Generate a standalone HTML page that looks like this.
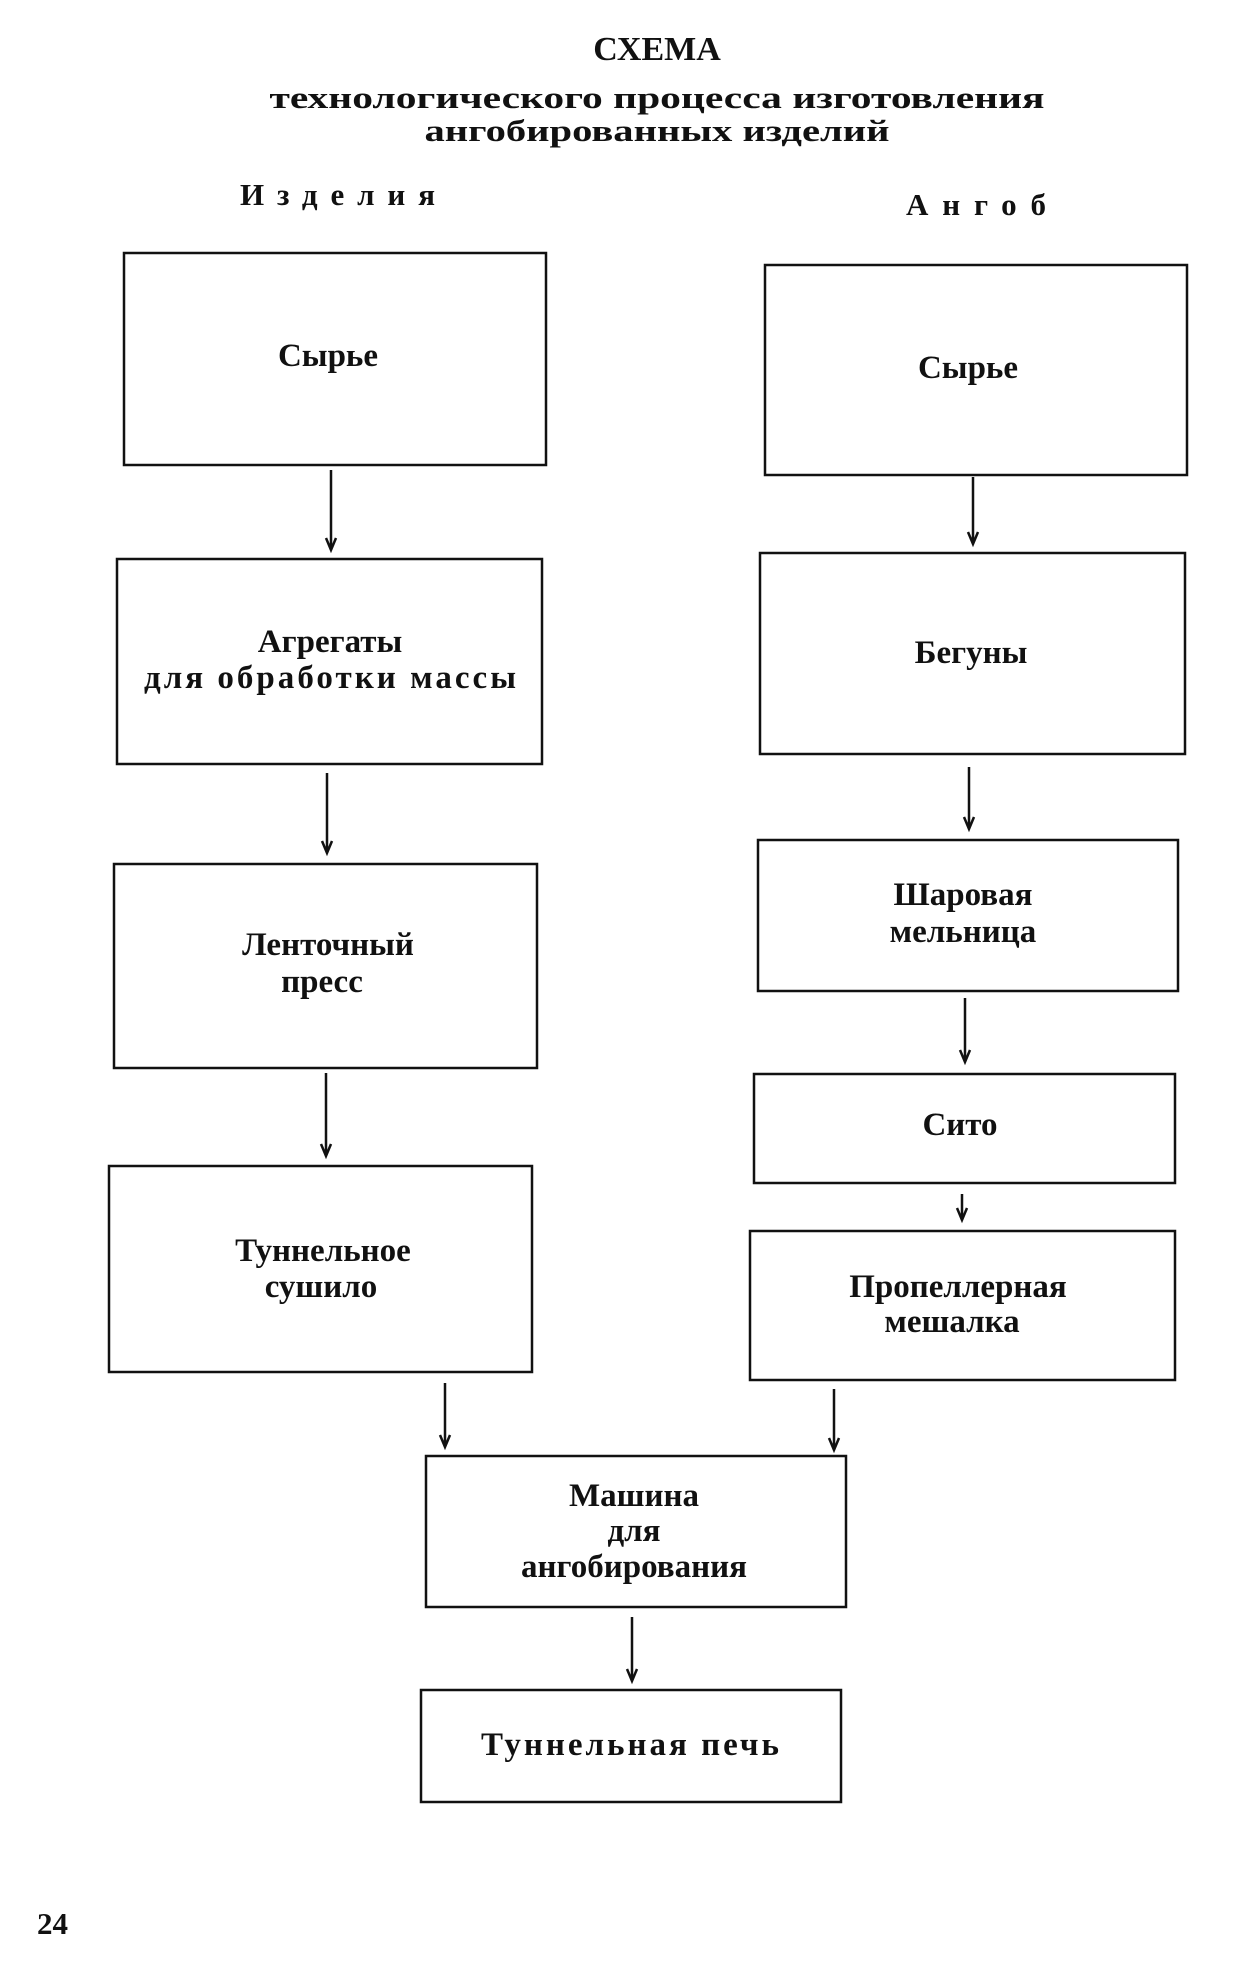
<!DOCTYPE html>
<html><head><meta charset="utf-8"><style>
html,body{margin:0;padding:0;background:#fff;}
svg{display:block}
text{font-family:"Liberation Serif","DejaVu Serif",serif;font-weight:bold;fill:#111;}
</style></head><body>
<svg width="1247" height="1980" viewBox="0 0 1247 1980" xmlns="http://www.w3.org/2000/svg">
<text x="657" y="60" font-size="34" text-anchor="middle">СХЕМА</text>
<text x="657" y="108" font-size="31" text-anchor="middle" textLength="775" lengthAdjust="spacingAndGlyphs">технологического процесса изготовления</text>
<text x="657" y="141" font-size="31" text-anchor="middle" textLength="465" lengthAdjust="spacingAndGlyphs">ангобированных изделий</text>
<text x="240" y="205" font-size="31" textLength="195" lengthAdjust="spacing">Изделия</text>
<text x="906" y="215" font-size="31" textLength="140" lengthAdjust="spacing">Ангоб</text>
<g fill="none" stroke="#111" stroke-width="2.5">
<rect x="124" y="253" width="422" height="212"/>
<rect x="765" y="265" width="422" height="210"/>
<rect x="117" y="559" width="425" height="205"/>
<rect x="760" y="553" width="425" height="201"/>
<rect x="114" y="864" width="423" height="204"/>
<rect x="758" y="840" width="420" height="151"/>
<rect x="754" y="1074" width="421" height="109"/>
<rect x="109" y="1166" width="423" height="206"/>
<rect x="750" y="1231" width="425" height="149"/>
<rect x="426" y="1456" width="420" height="151"/>
<rect x="421" y="1690" width="420" height="112"/>
</g>
<g stroke="#111" stroke-width="2.5" fill="none">
<path d="M331,470 V549 M326,538 L331,550 L336,538"/>
<path d="M327,773 V852 M322,841 L327,853 L332,841"/>
<path d="M326,1073 V1155 M321,1144 L326,1156 L331,1144"/>
<path d="M973,477 V543 M968,532 L973,544 L978,532"/>
<path d="M969,767 V828 M964,817 L969,829 L974,817"/>
<path d="M965,998 V1061 M960,1050 L965,1062 L970,1050"/>
<path d="M962,1194 V1219 M957,1208 L962,1220 L967,1208"/>
<path d="M445,1383 V1446 M440,1435 L445,1447 L450,1435"/>
<path d="M834,1389 V1449 M829,1438 L834,1450 L839,1438"/>
<path d="M632,1617 V1680 M627,1669 L632,1681 L637,1669"/>
</g>
<g font-size="33" text-anchor="middle">
<text x="328" y="366">Сырье</text>
<text x="968" y="378">Сырье</text>
<text x="330" y="652">Агрегаты</text>
<text x="330" y="688" textLength="372" lengthAdjust="spacing">для обработки массы</text>
<text x="971" y="663">Бегуны</text>
<text x="328" y="955">Ленточный</text>
<text x="322" y="992">пресс</text>
<text x="963" y="905">Шаровая</text>
<text x="963" y="942">мельница</text>
<text x="960" y="1135">Сито</text>
<text x="323" y="1261">Туннельное</text>
<text x="321" y="1297">сушило</text>
<text x="958" y="1297">Пропеллерная</text>
<text x="952" y="1332">мешалка</text>
<text x="634" y="1506">Машина</text>
<text x="634" y="1541">для</text>
<text x="634" y="1577">ангобирования</text>
<text x="630" y="1755" textLength="298" lengthAdjust="spacing">Туннельная печь</text>
</g>
<text x="37" y="1934" font-size="31">24</text>
</svg>
</body></html>
